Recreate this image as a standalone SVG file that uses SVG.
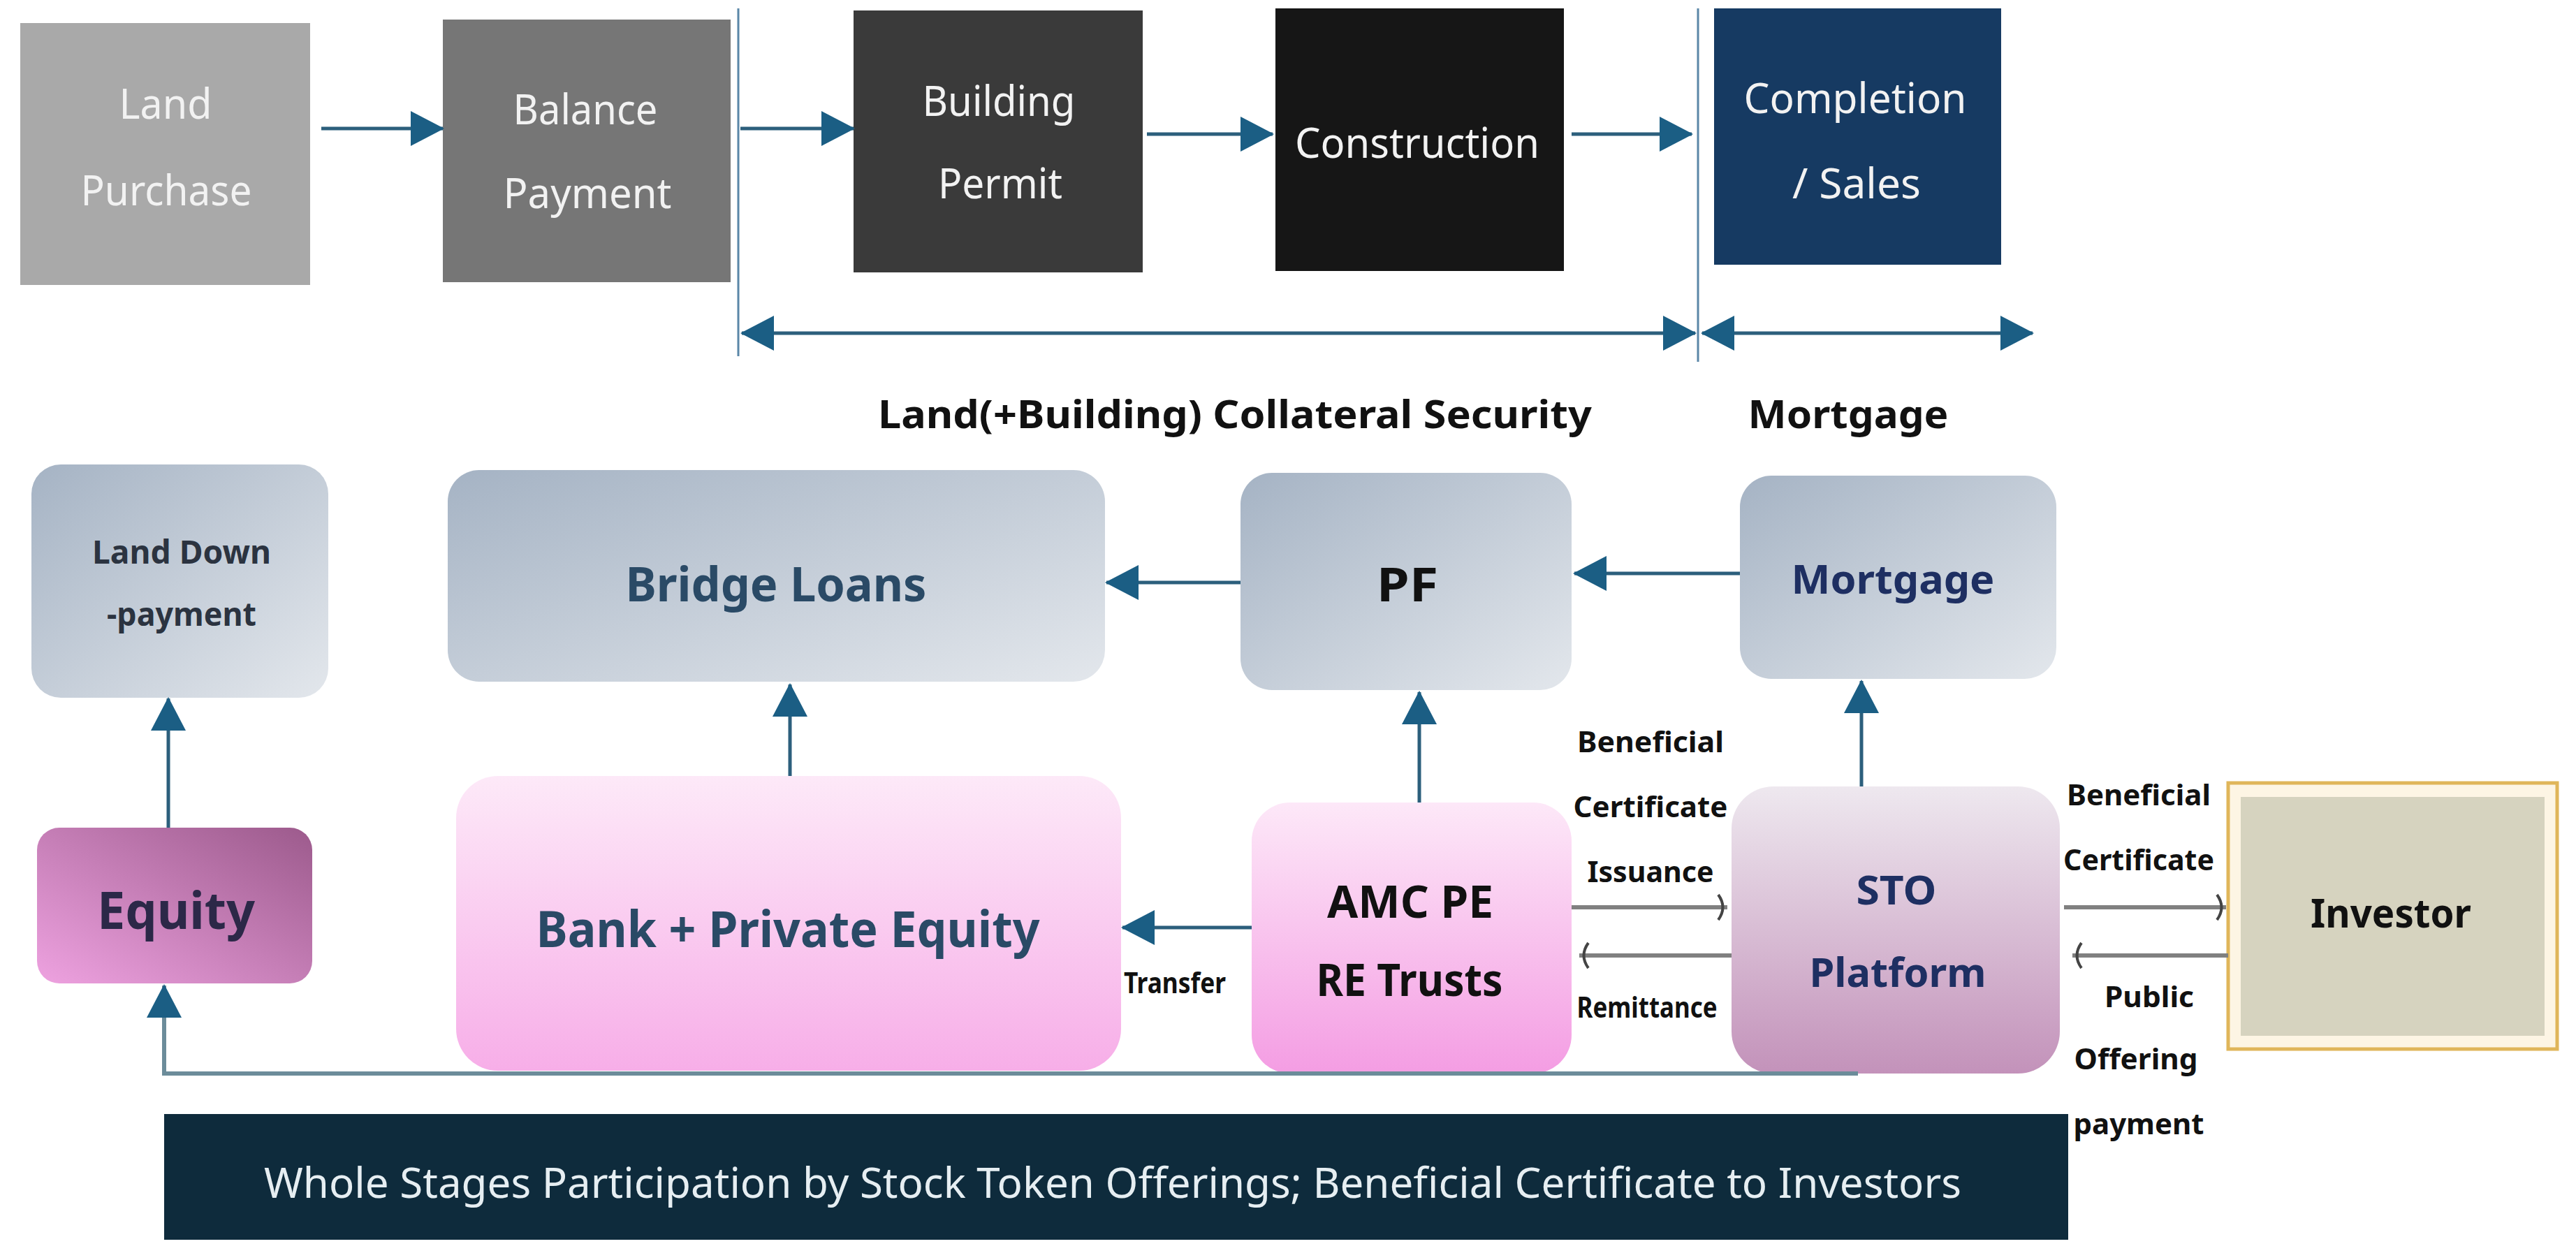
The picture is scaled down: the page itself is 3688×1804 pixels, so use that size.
<svg xmlns="http://www.w3.org/2000/svg" width="3688" height="1804" viewBox="0 0 3688 1804">
<style>
  text { font-family: "Noto Sans", "Open Sans", "DejaVu Sans", sans-serif; text-anchor: middle; }
  .top { fill: #f2f2f2; font-size: 60px; font-weight: 400; }
  .hd { fill: #111; font-size: 56px; font-weight: 700; }
  .lbl { fill: #2a4a66; font-weight: 700; }
  .blk { fill: #111; font-weight: 700; }
  .navy { fill: #1e2f62; font-weight: 700; }
  .sm { fill: #111; font-size: 42px; font-weight: 700; }
  .ban { fill: #e6eef2; font-size: 60px; font-weight: 400; }
  .sep { stroke: #5b87a8; stroke-width: 3; fill: none; }
  .ar { stroke: #2c5f7c; stroke-width: 5; fill: none; }
  .gr { stroke: #808080; stroke-width: 6; fill: none; }
</style>
<defs>
  <marker id="ah" markerUnits="userSpaceOnUse" markerWidth="48" markerHeight="50" viewBox="0 0 48 50" refX="46" refY="25" orient="auto-start-reverse">
    <path d="M0,0 L48,25 L0,50 Z" fill="#1b5e84"/>
  </marker>
  <marker id="gh" markerUnits="userSpaceOnUse" markerWidth="20" markerHeight="40" viewBox="0 0 20 40" refX="16" refY="20" orient="auto-start-reverse">
    <path d="M3,2 Q16,20 3,38" fill="none" stroke="#444" stroke-width="4"/>
  </marker>
  <linearGradient id="gBlue" x1="0" y1="0" x2="1" y2="1">
    <stop offset="0" stop-color="#a5b3c4"/>
    <stop offset="1" stop-color="#e3e7ec"/>
  </linearGradient>
  <linearGradient id="gEq" x1="0" y1="1" x2="1" y2="0">
    <stop offset="0" stop-color="#eea2e0"/>
    <stop offset="1" stop-color="#9c5a8c"/>
  </linearGradient>
  <linearGradient id="gBank" x1="0" y1="0" x2="0" y2="1">
    <stop offset="0" stop-color="#fde9f8"/>
    <stop offset="1" stop-color="#f7aee8"/>
  </linearGradient>
  <linearGradient id="gAmc" x1="0" y1="0" x2="0" y2="1">
    <stop offset="0" stop-color="#fde8f8"/>
    <stop offset="1" stop-color="#f49de3"/>
  </linearGradient>
  <linearGradient id="gSto" x1="0" y1="0" x2="0" y2="1">
    <stop offset="0" stop-color="#eee8ef"/>
    <stop offset="1" stop-color="#c392ba"/>
  </linearGradient>
</defs>
<rect width="3688" height="1804" fill="#ffffff"/>

<!-- top row -->
<g id="land-purchase">
  <rect x="29" y="33" width="415" height="375" fill="#a9a9a9"/>
  <text class="top" x="237" y="170" textLength="133" lengthAdjust="spacingAndGlyphs">Land</text>
  <text class="top" x="238" y="294" textLength="245" lengthAdjust="spacingAndGlyphs">Purchase</text>
</g>
<g id="balance-payment">
  <rect x="634" y="28" width="412" height="376" fill="#767676"/>
  <text class="top" x="838" y="178" textLength="207" lengthAdjust="spacingAndGlyphs">Balance</text>
  <text class="top" x="841" y="298" textLength="241" lengthAdjust="spacingAndGlyphs">Payment</text>
</g>
<g id="building-permit">
  <rect x="1222" y="15" width="414" height="375" fill="#3a3a3a"/>
  <text class="top" x="1430" y="166" textLength="219" lengthAdjust="spacingAndGlyphs">Building</text>
  <text class="top" x="1432" y="284" textLength="178" lengthAdjust="spacingAndGlyphs">Permit</text>
</g>
<g id="construction">
  <rect x="1826" y="12" width="413" height="376" fill="#161616"/>
  <text class="top" x="2029" y="226" textLength="350" lengthAdjust="spacingAndGlyphs">Construction</text>
</g>
<g id="completion-sales">
  <rect x="2454" y="12" width="411" height="367" fill="#163a62"/>
  <text class="top" x="2656" y="162" textLength="319" lengthAdjust="spacingAndGlyphs" fill="#e8eef4">Completion</text>
  <text class="top" x="2658" y="284" textLength="184" lengthAdjust="spacingAndGlyphs">/ Sales</text>
</g>

<g id="labels">
  <text class="hd" x="1768" y="613" textLength="1022" lengthAdjust="spacingAndGlyphs">Land(+Building) Collateral Security</text>
  <text class="hd" x="2646" y="613" textLength="287" lengthAdjust="spacingAndGlyphs">Mortgage</text>
</g>

<!-- bottom nodes -->
<g id="land-down-payment">
  <rect x="45" y="665" width="425" height="334" rx="42" fill="url(#gBlue)"/>
  <text x="260" y="807" fill="#2b3340" font-size="46" font-weight="700" textLength="256" lengthAdjust="spacingAndGlyphs">Land Down</text>
  <text x="260" y="896" fill="#2b3340" font-size="46" font-weight="700" textLength="214" lengthAdjust="spacingAndGlyphs">-payment</text>
</g>
<g id="bridge-loans">
  <rect x="641" y="673" width="941" height="303" rx="45" fill="url(#gBlue)"/>
  <text class="lbl" x="1111" y="861" font-size="68" textLength="431" lengthAdjust="spacingAndGlyphs">Bridge Loans</text>
</g>
<g id="pf">
  <rect x="1776" y="677" width="474" height="311" rx="45" fill="url(#gBlue)"/>
  <text class="blk" x="2015" y="861" font-size="66" textLength="88" lengthAdjust="spacingAndGlyphs">PF</text>
</g>
<g id="mortgage">
  <rect x="2491" y="681" width="453" height="291" rx="45" fill="url(#gBlue)"/>
  <text class="navy" x="2710" y="850" font-size="58" textLength="291" lengthAdjust="spacingAndGlyphs">Mortgage</text>
</g>
<g id="equity">
  <rect x="53" y="1185" width="394" height="223" rx="32" fill="url(#gEq)"/>
  <text x="252" y="1330" fill="#2c2848" font-size="74" font-weight="700" textLength="226" lengthAdjust="spacingAndGlyphs">Equity</text>
</g>
<g id="bank-private-equity">
  <rect x="653" y="1111" width="952" height="422" rx="60" fill="url(#gBank)"/>
  <text class="lbl" x="1128" y="1356" font-size="72" textLength="721" lengthAdjust="spacingAndGlyphs">Bank + Private Equity</text>
</g>
<g id="amc-pe-re-trusts">
  <rect x="1792" y="1149" width="458" height="388" rx="55" fill="url(#gAmc)"/>
  <text class="blk" x="2019" y="1314" font-size="64" textLength="238" lengthAdjust="spacingAndGlyphs">AMC PE</text>
  <text class="blk" x="2018" y="1426" font-size="64" textLength="267" lengthAdjust="spacingAndGlyphs">RE Trusts</text>
</g>
<g id="sto-platform">
  <rect x="2479" y="1126" width="470" height="411" rx="60" fill="url(#gSto)"/>
  <text class="navy" x="2715" y="1295" font-size="58" textLength="115" lengthAdjust="spacingAndGlyphs">STO</text>
  <text class="navy" x="2717" y="1413" font-size="58" textLength="253" lengthAdjust="spacingAndGlyphs">Platform</text>
</g>
<g id="investor">
  <rect x="3190" y="1121" width="471" height="381" fill="#fdf5e4" stroke="#e0b65a" stroke-width="5"/>
  <rect x="3208" y="1141" width="435" height="342" fill="#d6d3bf"/>
  <text class="blk" x="3423" y="1328" font-size="58" textLength="230" lengthAdjust="spacingAndGlyphs">Investor</text>
</g>
<g id="banner">
  <rect x="235" y="1595" width="2726" height="180" fill="#0e2b3c"/>
  <text class="ban" x="1593" y="1715" textLength="2430" lengthAdjust="spacingAndGlyphs">Whole Stages Participation by Stock Token Offerings; Beneficial Certificate to Investors</text>
</g>

<!-- connector labels -->
<g id="edge-labels">
  <text class="sm" x="1682" y="1422" font-size="38" textLength="146" lengthAdjust="spacingAndGlyphs">Transfer</text>
  <text class="sm" x="2363" y="1077" textLength="210" lengthAdjust="spacingAndGlyphs">Beneficial</text>
  <text class="sm" x="2363" y="1170" textLength="221" lengthAdjust="spacingAndGlyphs">Certificate</text>
  <text class="sm" x="2363" y="1263" textLength="181" lengthAdjust="spacingAndGlyphs">Issuance</text>
  <text class="sm" x="2358" y="1457" textLength="201" lengthAdjust="spacingAndGlyphs">Remittance</text>
  <text class="sm" x="3062" y="1153" textLength="206" lengthAdjust="spacingAndGlyphs">Beneficial</text>
  <text class="sm" x="3062" y="1246" textLength="216" lengthAdjust="spacingAndGlyphs">Certificate</text>
  <text class="sm" x="3077" y="1442" textLength="128" lengthAdjust="spacingAndGlyphs">Public</text>
  <text class="sm" x="3058" y="1531" textLength="177" lengthAdjust="spacingAndGlyphs">Offering</text>
  <text class="sm" x="3062" y="1624" textLength="187" lengthAdjust="spacingAndGlyphs">payment</text>
</g>

<!-- connectors -->
<g id="connectors">
  <line class="sep" x1="1057" y1="12" x2="1057" y2="510"/>
  <line class="sep" x1="2431" y1="12" x2="2431" y2="518"/>

  <line class="ar" x1="460" y1="184" x2="634" y2="184" marker-end="url(#ah)"/>
  <line class="ar" x1="1060" y1="184" x2="1222" y2="184" marker-end="url(#ah)"/>
  <line class="ar" x1="1642" y1="192" x2="1822" y2="192" marker-end="url(#ah)"/>
  <line class="ar" x1="2250" y1="192" x2="2422" y2="192" marker-end="url(#ah)"/>

  <line class="ar" x1="1062" y1="477" x2="2427" y2="477" marker-start="url(#ah)" marker-end="url(#ah)"/>
  <line class="ar" x1="2437" y1="477" x2="2910" y2="477" marker-start="url(#ah)" marker-end="url(#ah)"/>

  <line class="ar" x1="1776" y1="834" x2="1584" y2="834" marker-end="url(#ah)"/>
  <line class="ar" x1="2491" y1="821" x2="2254" y2="821" marker-end="url(#ah)"/>
  <line class="ar" x1="241" y1="1185" x2="241" y2="1000" marker-end="url(#ah)"/>
  <line class="ar" x1="1131" y1="1111" x2="1131" y2="980" marker-end="url(#ah)"/>
  <line class="ar" x1="2032" y1="1149" x2="2032" y2="991" marker-end="url(#ah)"/>
  <line class="ar" x1="2665" y1="1126" x2="2665" y2="975" marker-end="url(#ah)"/>
  <line class="ar" x1="1792" y1="1328" x2="1607" y2="1328" marker-end="url(#ah)"/>

  <path d="M2660,1537 L235,1537 L235,1411" stroke="#6c8c9a" stroke-width="6" fill="none" marker-end="url(#ah)"/>

  <line class="gr" x1="2250" y1="1299" x2="2473" y2="1299" marker-end="url(#gh)"/>
  <line class="gr" x1="2479" y1="1368" x2="2261" y2="1368" marker-end="url(#gh)"/>
  <line class="gr" x1="2955" y1="1299" x2="3187" y2="1299" marker-end="url(#gh)"/>
  <line class="gr" x1="3190" y1="1368" x2="2967" y2="1368" marker-end="url(#gh)"/>
</g>
</svg>
